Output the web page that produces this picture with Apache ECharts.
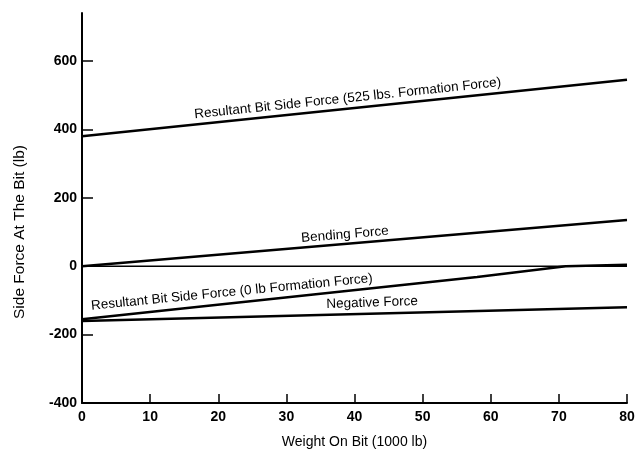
<!DOCTYPE html>
<html><head><meta charset="utf-8">
<script src="https://cdn.jsdelivr.net/npm/echarts@6/dist/echarts.min.js"></script>
<style>html,body{margin:0;padding:0;background:#fff}#c{width:636px;height:449px}</style>
</head><body><div id="c"></div>
<script>
// Data
const xTicks = [0,10,20,30,40,50,60,70,80];
const yTicks = [-400,-200,0,200,400,600];
const resultant525 = [[0,380],[80,545]];
const bendingForce = [[0,0],[80,135]];
const zeroLine = [[0,0],[80,0]];
const resultant0 = [[0,-155],[58,-32],[71,0],[80,4]];
const negativeForce = [[0,-160],[80,-120]];
// label anchors [x, y] and rotation
const lblResultant525 = {name:'Resultant Bit Side Force (525 lbs. Formation Force)', at:[39,490], rot:6};
const lblBending = {name:'Bending Force', at:[38.6,92], rot:4.8};
const lblResultant0 = {name:'Resultant Bit Side Force (0 lb Formation Force)', at:[22,-76], rot:5.6};
const lblNegative = {name:'Negative Force', at:[42.6,-107], rot:2};

const font = '"Liberation Sans", Arial, Helvetica, sans-serif';
function mk(l){
  return {symbol:'circle', symbolSize:0, silent:true, animation:false,
    data:[{name:l.name, coord:l.at, symbolSize:0,
      label:{show:true, formatter:'{b}', position:'inside', rotate:l.rot,
        color:'#000', fontSize:13.5, fontFamily:font}}]};
}
function line(d, w, l){
  const s = {type:'line', data:d, symbol:'none', silent:true, animation:false,
    lineStyle:{color:'#000', width:w}};
  if(l) s.markPoint = mk(l);
  return s;
}
const chart = echarts.init(document.getElementById('c'));
chart.setOption({
  animation:false,
  grid:{left:82, right:9, top:13, bottom:46, containLabel:false, outerBoundsMode:'none'},
  xAxis:{type:'value', min:0, max:80, interval:10,
    name:'Weight On Bit (1000 lb)', nameLocation:'middle', nameGap:32,
    nameTextStyle:{color:'#000', fontSize:14, fontFamily:font},
    axisLine:{show:true, onZero:false, lineStyle:{color:'#000', width:2}},
    axisTick:{show:true, inside:true, length:9, lineStyle:{color:'#000', width:1.5}, customValues:xTicks},
    axisLabel:{color:'#000', fontSize:14, fontWeight:'bold', fontFamily:font, margin:7, customValues:xTicks},
    splitLine:{show:false}},
  yAxis:{type:'value', min:-400, max:740, interval:200,
    name:'Side Force At The Bit (lb)', nameLocation:'middle', nameGap:54,
    nameTextStyle:{color:'#000', fontSize:15.5, fontFamily:font, padding:[0,48,0,0]},
    axisLine:{show:true, onZero:false, lineStyle:{color:'#000', width:2}},
    axisTick:{show:true, inside:true, length:11, lineStyle:{color:'#000', width:1.5}, customValues:yTicks},
    axisLabel:{color:'#000', fontSize:14, fontWeight:'bold', fontFamily:font, margin:5, customValues:yTicks},
    splitLine:{show:false}},
  series:[
    line(resultant525, 2.5, lblResultant525),
    line(bendingForce, 2.5, lblBending),
    line(zeroLine, 1.5),
    line(resultant0, 2.5, lblResultant0),
    line(negativeForce, 2.5, lblNegative)
  ]
});
</script></body></html>
